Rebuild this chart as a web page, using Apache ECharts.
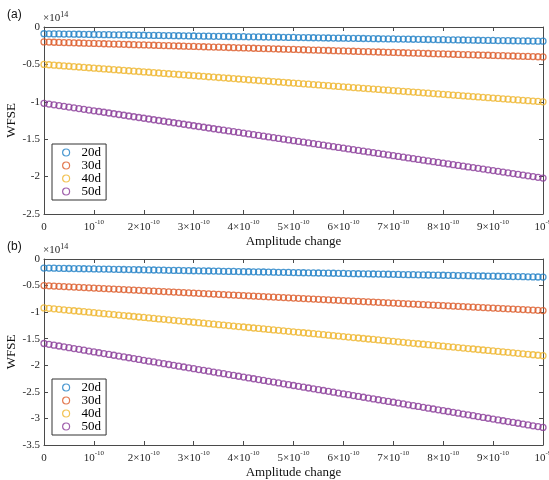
<!DOCTYPE html>
<html>
<head>
<meta charset="utf-8">
<script src="https://cdn.jsdelivr.net/npm/echarts@6/dist/echarts.min.js"></script>
<style>
html, body { margin: 0; padding: 0; background: #fff; }
#chart { width: 549px; height: 480px; }
</style>
</head>
<body>
<div id="chart"></div>
<script>
// Amplitude change, in units of 1e-10
const amplitude = [
  0, 0.1, 0.2, 0.3, 0.4, 0.5, 0.6, 0.7, 0.8, 0.9,
  1, 1.1, 1.2, 1.3, 1.4, 1.5, 1.6, 1.7, 1.8, 1.9,
  2, 2.1, 2.2, 2.3, 2.4, 2.5, 2.6, 2.7, 2.8, 2.9,
  3, 3.1, 3.2, 3.3, 3.4, 3.5, 3.6, 3.7, 3.8, 3.9,
  4, 4.1, 4.2, 4.3, 4.4, 4.5, 4.6, 4.7, 4.8, 4.9,
  5, 5.1, 5.2, 5.3, 5.4, 5.5, 5.6, 5.7, 5.8, 5.9,
  6, 6.1, 6.2, 6.3, 6.4, 6.5, 6.6, 6.7, 6.8, 6.9,
  7, 7.1, 7.2, 7.3, 7.4, 7.5, 7.6, 7.7, 7.8, 7.9,
  8, 8.1, 8.2, 8.3, 8.4, 8.5, 8.6, 8.7, 8.8, 8.9,
  9, 9.1, 9.2, 9.3, 9.4, 9.5, 9.6, 9.7, 9.8, 9.9,
  10
];

const seriesNames = ['20d', '30d', '40d', '50d'];

// Panel (a) WFSE, in units of 1e14
const wfseA20 = [
  -0.090, -0.091, -0.092, -0.093, -0.094, -0.095, -0.096, -0.097, -0.098, -0.099,
  -0.100, -0.101, -0.102, -0.103, -0.104, -0.105, -0.106, -0.107, -0.108, -0.109,
  -0.110, -0.111, -0.112, -0.113, -0.114, -0.115, -0.116, -0.117, -0.118, -0.119,
  -0.120, -0.121, -0.122, -0.123, -0.124, -0.125, -0.126, -0.127, -0.128, -0.129,
  -0.130, -0.131, -0.132, -0.133, -0.134, -0.135, -0.136, -0.137, -0.138, -0.139,
  -0.140, -0.141, -0.142, -0.143, -0.144, -0.145, -0.146, -0.147, -0.148, -0.149,
  -0.150, -0.151, -0.152, -0.153, -0.154, -0.155, -0.156, -0.157, -0.158, -0.159,
  -0.160, -0.161, -0.162, -0.163, -0.164, -0.165, -0.166, -0.167, -0.168, -0.169,
  -0.170, -0.171, -0.172, -0.173, -0.174, -0.175, -0.176, -0.177, -0.178, -0.179,
  -0.180, -0.181, -0.182, -0.183, -0.184, -0.185, -0.186, -0.187, -0.188, -0.189,
  -0.190
];
const wfseA30 = [
  -0.200, -0.202, -0.204, -0.206, -0.208, -0.210, -0.212, -0.214, -0.216, -0.218,
  -0.220, -0.222, -0.224, -0.226, -0.228, -0.230, -0.232, -0.234, -0.236, -0.238,
  -0.240, -0.242, -0.244, -0.246, -0.248, -0.250, -0.252, -0.254, -0.256, -0.258,
  -0.260, -0.262, -0.264, -0.266, -0.268, -0.270, -0.272, -0.274, -0.276, -0.278,
  -0.280, -0.282, -0.284, -0.286, -0.288, -0.290, -0.292, -0.294, -0.296, -0.298,
  -0.300, -0.302, -0.304, -0.306, -0.308, -0.310, -0.312, -0.314, -0.316, -0.318,
  -0.320, -0.322, -0.324, -0.326, -0.328, -0.330, -0.332, -0.334, -0.336, -0.338,
  -0.340, -0.342, -0.344, -0.346, -0.348, -0.350, -0.352, -0.354, -0.356, -0.358,
  -0.360, -0.362, -0.364, -0.366, -0.368, -0.370, -0.372, -0.374, -0.376, -0.378,
  -0.380, -0.382, -0.384, -0.386, -0.388, -0.390, -0.392, -0.394, -0.396, -0.398,
  -0.400
];
const wfseA40 = [
  -0.500, -0.505, -0.510, -0.515, -0.520, -0.525, -0.530, -0.535, -0.540, -0.545,
  -0.550, -0.555, -0.560, -0.565, -0.570, -0.575, -0.580, -0.585, -0.590, -0.595,
  -0.600, -0.605, -0.610, -0.615, -0.620, -0.625, -0.630, -0.635, -0.640, -0.645,
  -0.650, -0.655, -0.660, -0.665, -0.670, -0.675, -0.680, -0.685, -0.690, -0.695,
  -0.700, -0.705, -0.710, -0.715, -0.720, -0.725, -0.730, -0.735, -0.740, -0.745,
  -0.750, -0.755, -0.760, -0.765, -0.770, -0.775, -0.780, -0.785, -0.790, -0.795,
  -0.800, -0.805, -0.810, -0.815, -0.820, -0.825, -0.830, -0.835, -0.840, -0.845,
  -0.850, -0.855, -0.860, -0.865, -0.870, -0.875, -0.880, -0.885, -0.890, -0.895,
  -0.900, -0.905, -0.910, -0.915, -0.920, -0.925, -0.930, -0.935, -0.940, -0.945,
  -0.950, -0.955, -0.960, -0.965, -0.970, -0.975, -0.980, -0.985, -0.990, -0.995,
  -1.000
];
const wfseA50 = [
  -1.02, -1.03, -1.04, -1.05, -1.06, -1.07, -1.08, -1.09, -1.10, -1.11,
  -1.12, -1.13, -1.14, -1.15, -1.16, -1.17, -1.18, -1.19, -1.20, -1.21,
  -1.22, -1.23, -1.24, -1.25, -1.26, -1.27, -1.28, -1.29, -1.30, -1.31,
  -1.32, -1.33, -1.34, -1.35, -1.36, -1.37, -1.38, -1.39, -1.40, -1.41,
  -1.42, -1.43, -1.44, -1.45, -1.46, -1.47, -1.48, -1.49, -1.50, -1.51,
  -1.52, -1.53, -1.54, -1.55, -1.56, -1.57, -1.58, -1.59, -1.60, -1.61,
  -1.62, -1.63, -1.64, -1.65, -1.66, -1.67, -1.68, -1.69, -1.70, -1.71,
  -1.72, -1.73, -1.74, -1.75, -1.76, -1.77, -1.78, -1.79, -1.80, -1.81,
  -1.82, -1.83, -1.84, -1.85, -1.86, -1.87, -1.88, -1.89, -1.90, -1.91,
  -1.92, -1.93, -1.94, -1.95, -1.96, -1.97, -1.98, -1.99, -2.00, -2.01,
  -2.02
];

// Panel (b) WFSE, in units of 1e14
const wfseB20 = [
  -0.1700, -0.1717, -0.1734, -0.1751, -0.1768, -0.1785, -0.1802, -0.1819, -0.1836, -0.1853,
  -0.1870, -0.1887, -0.1904, -0.1921, -0.1938, -0.1955, -0.1972, -0.1989, -0.2006, -0.2023,
  -0.2040, -0.2057, -0.2074, -0.2091, -0.2108, -0.2125, -0.2142, -0.2159, -0.2176, -0.2193,
  -0.2210, -0.2227, -0.2244, -0.2261, -0.2278, -0.2295, -0.2312, -0.2329, -0.2346, -0.2363,
  -0.2380, -0.2397, -0.2414, -0.2431, -0.2448, -0.2465, -0.2482, -0.2499, -0.2516, -0.2533,
  -0.2550, -0.2567, -0.2584, -0.2601, -0.2618, -0.2635, -0.2652, -0.2669, -0.2686, -0.2703,
  -0.2720, -0.2737, -0.2754, -0.2771, -0.2788, -0.2805, -0.2822, -0.2839, -0.2856, -0.2873,
  -0.2890, -0.2907, -0.2924, -0.2941, -0.2958, -0.2975, -0.2992, -0.3009, -0.3026, -0.3043,
  -0.3060, -0.3077, -0.3094, -0.3111, -0.3128, -0.3145, -0.3162, -0.3179, -0.3196, -0.3213,
  -0.3230, -0.3247, -0.3264, -0.3281, -0.3298, -0.3315, -0.3332, -0.3349, -0.3366, -0.3383,
  -0.3400
];
const wfseB30 = [
  -0.5000, -0.5047, -0.5094, -0.5141, -0.5188, -0.5235, -0.5282, -0.5329, -0.5376, -0.5423,
  -0.5470, -0.5517, -0.5564, -0.5611, -0.5658, -0.5705, -0.5752, -0.5799, -0.5846, -0.5893,
  -0.5940, -0.5987, -0.6034, -0.6081, -0.6128, -0.6175, -0.6222, -0.6269, -0.6316, -0.6363,
  -0.6410, -0.6457, -0.6504, -0.6551, -0.6598, -0.6645, -0.6692, -0.6739, -0.6786, -0.6833,
  -0.6880, -0.6927, -0.6974, -0.7021, -0.7068, -0.7115, -0.7162, -0.7209, -0.7256, -0.7303,
  -0.7350, -0.7397, -0.7444, -0.7491, -0.7538, -0.7585, -0.7632, -0.7679, -0.7726, -0.7773,
  -0.7820, -0.7867, -0.7914, -0.7961, -0.8008, -0.8055, -0.8102, -0.8149, -0.8196, -0.8243,
  -0.8290, -0.8337, -0.8384, -0.8431, -0.8478, -0.8525, -0.8572, -0.8619, -0.8666, -0.8713,
  -0.8760, -0.8807, -0.8854, -0.8901, -0.8948, -0.8995, -0.9042, -0.9089, -0.9136, -0.9183,
  -0.9230, -0.9277, -0.9324, -0.9371, -0.9418, -0.9465, -0.9512, -0.9559, -0.9606, -0.9653,
  -0.9700
];
const wfseB40 = [
  -0.920, -0.929, -0.938, -0.947, -0.956, -0.965, -0.974, -0.983, -0.992, -1.001,
  -1.010, -1.019, -1.028, -1.037, -1.046, -1.055, -1.064, -1.073, -1.082, -1.091,
  -1.100, -1.109, -1.118, -1.127, -1.136, -1.145, -1.154, -1.163, -1.172, -1.181,
  -1.190, -1.199, -1.208, -1.217, -1.226, -1.235, -1.244, -1.253, -1.262, -1.271,
  -1.280, -1.289, -1.298, -1.307, -1.316, -1.325, -1.334, -1.343, -1.352, -1.361,
  -1.370, -1.379, -1.388, -1.397, -1.406, -1.415, -1.424, -1.433, -1.442, -1.451,
  -1.460, -1.469, -1.478, -1.487, -1.496, -1.505, -1.514, -1.523, -1.532, -1.541,
  -1.550, -1.559, -1.568, -1.577, -1.586, -1.595, -1.604, -1.613, -1.622, -1.631,
  -1.640, -1.649, -1.658, -1.667, -1.676, -1.685, -1.694, -1.703, -1.712, -1.721,
  -1.730, -1.739, -1.748, -1.757, -1.766, -1.775, -1.784, -1.793, -1.802, -1.811,
  -1.820
];
const wfseB50 = [
  -1.5900, -1.6058, -1.6216, -1.6374, -1.6532, -1.6690, -1.6848, -1.7006, -1.7164, -1.7322,
  -1.7480, -1.7638, -1.7796, -1.7954, -1.8112, -1.8270, -1.8428, -1.8586, -1.8744, -1.8902,
  -1.9060, -1.9218, -1.9376, -1.9534, -1.9692, -1.9850, -2.0008, -2.0166, -2.0324, -2.0482,
  -2.0640, -2.0798, -2.0956, -2.1114, -2.1272, -2.1430, -2.1588, -2.1746, -2.1904, -2.2062,
  -2.2220, -2.2378, -2.2536, -2.2694, -2.2852, -2.3010, -2.3168, -2.3326, -2.3484, -2.3642,
  -2.3800, -2.3958, -2.4116, -2.4274, -2.4432, -2.4590, -2.4748, -2.4906, -2.5064, -2.5222,
  -2.5380, -2.5538, -2.5696, -2.5854, -2.6012, -2.6170, -2.6328, -2.6486, -2.6644, -2.6802,
  -2.6960, -2.7118, -2.7276, -2.7434, -2.7592, -2.7750, -2.7908, -2.8066, -2.8224, -2.8382,
  -2.8540, -2.8698, -2.8856, -2.9014, -2.9172, -2.9330, -2.9488, -2.9646, -2.9804, -2.9962,
  -3.0120, -3.0278, -3.0436, -3.0594, -3.0752, -3.0910, -3.1068, -3.1226, -3.1384, -3.1542,
  -3.1700
];

// x tick labels: mantissa part and superscript exponent
const xTickMant = ['0', '10', '2\u00d710', '3\u00d710', '4\u00d710', '5\u00d710', '6\u00d710', '7\u00d710', '8\u00d710', '9\u00d710', '10'];
const xTickExp  = ['', '-10', '-10', '-10', '-10', '-10', '-10', '-10', '-10', '-10', '-9'];

// y axis ranges per panel
const yMinA = -2.5, yMinB = -3.5;

const colors = ['#1f7fc6', '#dc5a28', '#efb52c', '#8a3b98'];
const axisColor = '#4a4a4a';
const serif = '"Liberation Serif", "Times New Roman", serif';

const panels = [
  { top: 27, height: 187, yMin: yMinA, data: [wfseA20, wfseA30, wfseA40, wfseA50], legendTop: 144, label: '(a)' },
  { top: 259, height: 186, yMin: yMinB, data: [wfseB20, wfseB30, wfseB40, wfseB50], legendTop: 379, label: '(b)' }
];

const tickStyle = { inside: true, length: 4, lineStyle: { color: axisColor, width: 1 } };
const lineStyle = { show: true, onZero: false, lineStyle: { color: axisColor, width: 1 } };

const grids = [], xAxes = [], yAxes = [], series = [], legends = [], graphics = [];

panels.forEach((p, i) => {
  grids.push({ left: 44, top: p.top, width: 499, height: p.height, containLabel: false, outerBoundsMode: 'none' });

  xAxes.push({
    gridIndex: i, type: 'value', min: 0, max: 10, interval: 1, position: 'bottom',
    axisLine: lineStyle, axisTick: Object.assign({ show: true }, tickStyle), splitLine: { show: false },
    axisLabel: {
      show: true, margin: 5, hideOverlap: false, showMinLabel: true, showMaxLabel: true,
      formatter: v => {
        const k = Math.round(v);
        return xTickExp[k] ? '{m|' + xTickMant[k] + '}{e|' + xTickExp[k] + '}' : '{m|' + xTickMant[k] + '}';
      },
      rich: {
        m: { fontFamily: serif, fontSize: 11, color: '#262626', lineHeight: 14, verticalAlign: 'bottom' },
        e: { fontFamily: serif, fontSize: 7, color: '#262626', lineHeight: 14, verticalAlign: 'top' }
      }
    },
    name: 'Amplitude change', nameLocation: 'middle', nameGap: 21,
    nameTextStyle: { fontFamily: serif, fontSize: 13, color: '#111' }
  });
  xAxes.push({
    gridIndex: i, type: 'value', min: 0, max: 10, interval: 1, position: 'top',
    axisLine: lineStyle, axisTick: Object.assign({ show: true }, tickStyle),
    axisLabel: { show: false }, splitLine: { show: false }
  });

  yAxes.push({
    gridIndex: i, type: 'value', min: p.yMin, max: 0, interval: 0.5, position: 'left',
    axisLine: lineStyle, axisTick: Object.assign({ show: true }, tickStyle), splitLine: { show: false },
    axisLabel: {
      margin: 4, fontFamily: serif, fontSize: 11, color: '#262626',
      formatter: v => (v === 0 ? '0' : String(+v.toFixed(1)))
    },
    name: 'WFSE', nameLocation: 'middle', nameGap: 26, nameRotate: 90, nameMoveOverlap: false,
    nameTextStyle: { fontFamily: serif, fontSize: 13, color: '#111' }
  });
  yAxes.push({
    gridIndex: i, type: 'value', min: p.yMin, max: 0, interval: 0.5, position: 'right',
    axisLine: lineStyle, axisTick: Object.assign({ show: true }, tickStyle),
    axisLabel: { show: false }, splitLine: { show: false }
  });

  p.data.forEach((vals, k) => {
    series.push({
      type: 'scatter', name: seriesNames[k], xAxisIndex: 2 * i, yAxisIndex: 2 * i,
      data: amplitude.map((x, j) => [x, vals[j]]),
      symbol: 'circle', symbolSize: 6, clip: false,
      itemStyle: { color: 'rgba(0,0,0,0)', borderColor: colors[k], borderWidth: 1.3 },
      emphasis: { disabled: true }, silent: true
    });
  });

  legends.push({
    orient: 'vertical', left: 52, top: p.legendTop,
    data: seriesNames.map((n, k) => ({
      name: n, icon: 'circle',
      itemStyle: { color: 'rgba(0,0,0,0)', borderColor: colors[k], borderWidth: 1.2 }
    })),
    itemWidth: 7, itemHeight: 7, itemGap: 0, padding: [2, 5, 2, 10],
    borderColor: '#333', borderWidth: 1, backgroundColor: '#fff',
    textStyle: { fontFamily: serif, fontSize: 13, color: '#000', lineHeight: 13, padding: [0, 0, 0, 7] },
    selectedMode: false
  });

  graphics.push({
    type: 'text', left: 7, top: p.top - 18,
    style: { text: p.label, font: '12px "Liberation Sans", Arial, sans-serif', fill: '#111' }
  });
  graphics.push({
    type: 'text', left: 43, top: p.top - 16,
    style: {
      text: '{m|\u00d710}{e|14}',
      rich: {
        m: { fontFamily: serif, fontSize: 11, fill: '#262626', color: '#262626', lineHeight: 13, verticalAlign: 'bottom' },
        e: { fontFamily: serif, fontSize: 8, fill: '#262626', color: '#262626', lineHeight: 13, verticalAlign: 'top' }
      }
    }
  });
});

const chart = echarts.init(document.getElementById('chart'), null, { renderer: 'canvas' });
chart.setOption({
  animation: false,
  backgroundColor: '#fff',
  grid: grids,
  xAxis: xAxes,
  yAxis: yAxes,
  legend: legends,
  series: series,
  graphic: graphics
});
</script>
</body>
</html>
